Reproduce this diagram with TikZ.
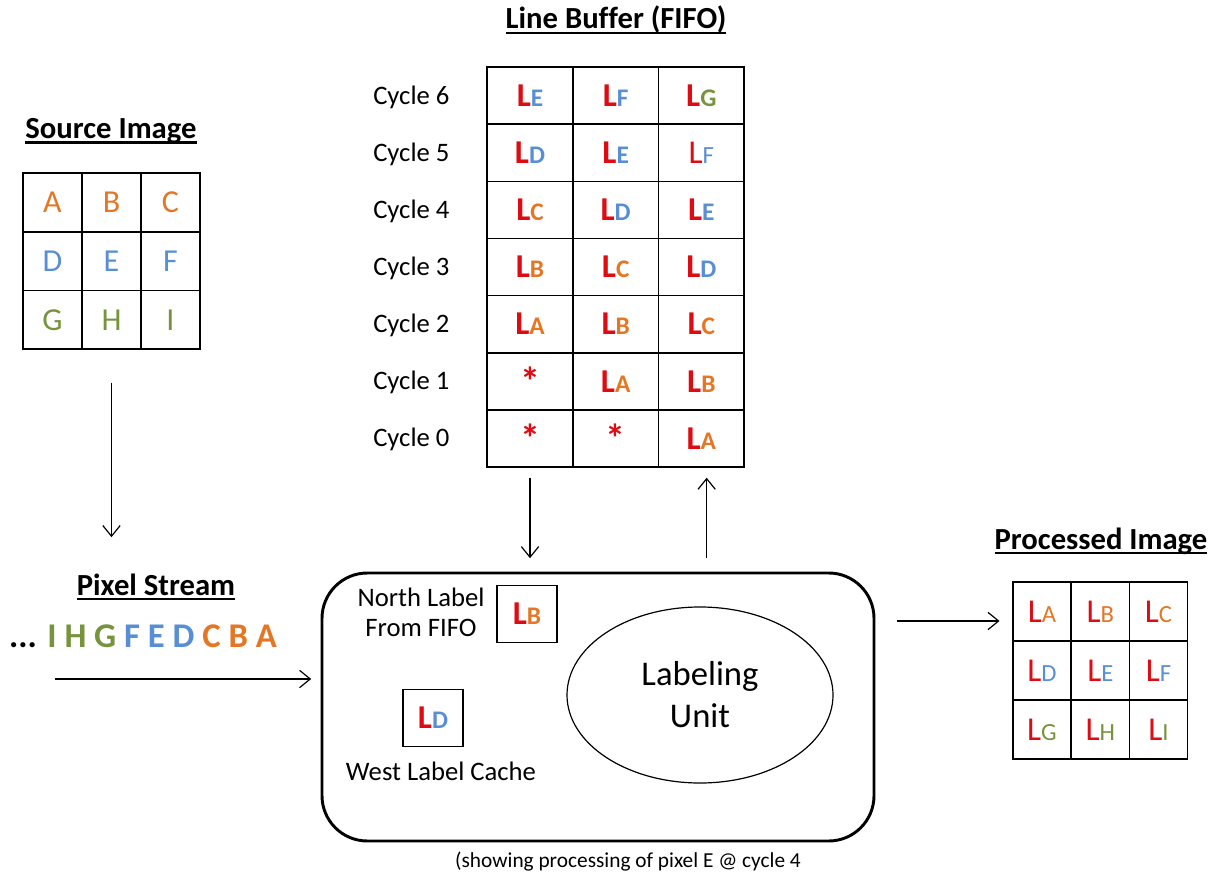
\documentclass[tikz,border=0pt]{standalone}
\usepackage{fontspec}
\setmainfont[Ligatures=NoCommon]{Carlito}
\usepackage{tikz}
\usetikzlibrary{positioning}
\usetikzlibrary {arrows.meta}
\usetikzlibrary{shapes.geometric}
\definecolor{lred}{RGB}{222,12,18}
\definecolor{lorange}{RGB}{228,118,36}
\definecolor{lblue}{RGB}{88,142,212}
\definecolor{lgreen}{RGB}{119,147,60}
\newcommand{\fifoL}[2]{{\fontsize{25}{25}\selectfont\bfseries\color{lred}L}{\fontsize{19}{19}\selectfont\bfseries\color{#1}#2}}
\newcommand{\thinL}[2]{{\fontsize{25}{25}\selectfont\color{lred}L}{\fontsize{18.5}{18.5}\selectfont\color{#1}#2}}
\newcommand{\emptyslot}{{\fontsize{30}{30}\selectfont\bfseries\color{lred}*}}
\newcommand{\ultitle}[1]{\setbox0\hbox{#1}\rlap{\rule[-4pt]{\wd0}{1.7pt}}\box0}
\tikzset{srccell/.style={rectangle,draw=black,line width=1.2pt,outer sep=0pt,
inner sep=0pt,minimum width=44.25pt,minimum height=44pt,font=\fontsize{24}{24}\selectfont}}
\tikzset{fifocell/.style={rectangle,draw=black,line width=1.2pt,outer sep=0pt,
inner sep=0pt,minimum width=64.25pt,minimum height=42.86pt}}
\tikzset{proccell/.style={rectangle,draw=black,line width=1.2pt,outer sep=0pt,
inner sep=0pt,minimum width=43.7pt,minimum height=44.25pt}}
\tikzset{labelbox/.style={rectangle,draw=black,line width=0.9pt,
inner sep=0pt,minimum width=45pt,minimum height=43pt}}
\tikzset{titletext/.style={font=\fontsize{23}{23}\selectfont\bfseries}}
\tikzset{cyclelabel/.style={anchor=west,inner sep=0pt,font=\fontsize{20}{20}\selectfont}}
\tikzset{flow/.style={line width=0.9pt,-{Straight Barb[length=8pt,width=13pt]}}}

\begin{document}
\begin{tikzpicture}[x=0.75pt,y=-0.75pt]
        \useasboundingbox (0,0) rectangle (1220,880);

        % source image
        \node[titletext] (srctitle) at (111,131) {\ultitle{Source Image}};
        \node[srccell,text=lorange] (srcA) at (52.5,202.5) {A};
        \node[srccell,text=lorange] (srcB) [right=0pt of srcA] {B};
        \node[srccell,text=lorange] (srcC) [right=0pt of srcB] {C};
        \node[srccell,text=lblue] (srcD) [below=0pt of srcA] {D};
        \node[srccell,text=lblue] (srcE) [right=0pt of srcD] {E};
        \node[srccell,text=lblue] (srcF) [right=0pt of srcE] {F};
        \node[srccell,text=lgreen] (srcG) [below=0pt of srcD] {G};
        \node[srccell,text=lgreen] (srcH) [right=0pt of srcG] {H};
        \node[srccell,text=lgreen] (srcI) [right=0pt of srcH] {I};

        % line buffer
        \node[titletext] (fifotitle) at (616,20) {\ultitle{Line Buffer (FIFO)}};
        \node[fifocell] (cycSixA) at (530,95.6) {\fifoL{lblue}{E}};
        \node[fifocell] (cycSixB) [right=0pt of cycSixA] {\fifoL{lblue}{F}};
        \node[fifocell] (cycSixC) [right=0pt of cycSixB] {\fifoL{lgreen}{G}};
        \node[fifocell] (cycFiveA) [below=0pt of cycSixA] {\fifoL{lblue}{D}};
        \node[fifocell] (cycFiveB) [right=0pt of cycFiveA] {\fifoL{lblue}{E}};
        \node[fifocell] (cycFiveC) [right=0pt of cycFiveB] {\thinL{lblue}{F}};
        \node[fifocell] (cycFourA) [below=0pt of cycFiveA] {\fifoL{lorange}{C}};
        \node[fifocell] (cycFourB) [right=0pt of cycFourA] {\fifoL{lblue}{D}};
        \node[fifocell] (cycFourC) [right=0pt of cycFourB] {\fifoL{lblue}{E}};
        \node[fifocell] (cycThreeA) [below=0pt of cycFourA] {\fifoL{lorange}{B}};
        \node[fifocell] (cycThreeB) [right=0pt of cycThreeA] {\fifoL{lorange}{C}};
        \node[fifocell] (cycThreeC) [right=0pt of cycThreeB] {\fifoL{lblue}{D}};
        \node[fifocell] (cycTwoA) [below=0pt of cycThreeA] {\fifoL{lorange}{A}};
        \node[fifocell] (cycTwoB) [right=0pt of cycTwoA] {\fifoL{lorange}{B}};
        \node[fifocell] (cycTwoC) [right=0pt of cycTwoB] {\fifoL{lorange}{C}};
        \node[fifocell] (cycOneA) [below=0pt of cycTwoA] {\emptyslot};
        \node[fifocell] (cycOneB) [right=0pt of cycOneA] {\fifoL{lorange}{A}};
        \node[fifocell] (cycOneC) [right=0pt of cycOneB] {\fifoL{lorange}{B}};
        \node[fifocell] (cycZeroA) [below=0pt of cycOneA] {\emptyslot};
        \node[fifocell] (cycZeroB) [right=0pt of cycZeroA] {\emptyslot};
        \node[fifocell] (cycZeroC) [right=0pt of cycZeroB] {\fifoL{lorange}{A}};

        \node[cyclelabel] (cycSix) at (373,97) {Cycle 6};
        \node[cyclelabel] (cycFive) at (373,154) {Cycle 5};
        \node[cyclelabel] (cycFour) at (373,211.5) {Cycle 4};
        \node[cyclelabel] (cycThree) at (373,268.5) {Cycle 3};
        \node[cyclelabel] (cycTwo) at (373,325.5) {Cycle 2};
        \node[cyclelabel] (cycOne) at (373,382.5) {Cycle 1};
        \node[cyclelabel] (cycZero) at (373,439.5) {Cycle 0};

        % pixel stream
        \node[titletext] (streamtitle) at (156,587) {\ultitle{Pixel Stream}};
        \node[font=\fontsize{26}{26}\selectfont\bfseries] (stream) at (143,636)
            {... \textcolor{lgreen}{I H G} \textcolor{lblue}{F E D} \textcolor{lorange}{C B A}};

        % labeling unit
        \node[rectangle,draw=black,line width=2.2pt,rounded corners=34pt,
            minimum width=414pt,minimum height=201pt] (unit) at (598,707) {};
        \node[align=center,font=\fontsize{20}{22.5}\selectfont] (northtext) at (421,612) {North Label\\From FIFO};
        \node[labelbox] (northbox) at (527,614) {\fifoL{lorange}{B}};
        \node[labelbox] (westbox) at (433,718) {\fifoL{lblue}{D}};
        \node[font=\fontsize{20}{20}\selectfont] (westtext) at (441,771) {West Label Cache};
        \node[ellipse,draw=black,line width=0.9pt,minimum width=199.5pt,minimum height=132pt,
            align=center,font=\fontsize{26}{31.5}\selectfont] (labunit) at (700,695) {Labeling\\Unit};
        \node[font=\fontsize{16}{16}\selectfont] (note) at (628,862) {(showing processing of pixel E @ cycle 4};

        % processed image
        \node[titletext] (proctitle) at (1101,541) {\ultitle{Processed Image}};
        \node[proccell] (procA) at (1042,611.5) {\thinL{lorange}{A}};
        \node[proccell] (procB) [right=0pt of procA] {\thinL{lorange}{B}};
        \node[proccell] (procC) [right=0pt of procB] {\thinL{lorange}{C}};
        \node[proccell] (procD) [below=0pt of procA] {\thinL{lblue}{D}};
        \node[proccell] (procE) [right=0pt of procD] {\thinL{lblue}{E}};
        \node[proccell] (procF) [right=0pt of procE] {\thinL{lblue}{F}};
        \node[proccell] (procG) [below=0pt of procD] {\thinL{lgreen}{G}};
        \node[proccell] (procH) [right=0pt of procG] {\thinL{lgreen}{H}};
        \node[proccell] (procI) [right=0pt of procH] {\thinL{lgreen}{I}};

        % connectors
        \coordinate (srcout) at ([yshift=-25pt]srcH.south);
        \coordinate (streamin) at ([yshift=-141pt]srcH.south);
        \draw[flow] (srcout) -- (streamin);

        \coordinate (streamstart) at (55,679);
        \coordinate (unitwest) at ([xshift=-7pt]unit.west |- streamstart);
        \draw[flow] (streamstart) -- (unitwest);

        \coordinate (fifoout) at ([yshift=-8pt]cycZeroA.south);
        \coordinate (unitnorth) at ([yshift=10pt]cycZeroA.south |- unit.north);
        \draw[flow] (fifoout) -- (unitnorth);

        \coordinate (fifoin) at ([xshift=4pt,yshift=-8pt]cycZeroC.south);
        \coordinate (unitback) at ([yshift=10pt]fifoin |- unit.north);
        \draw[flow] (unitback) -- (fifoin);

        \coordinate (unitout) at (897,621);
        \coordinate (procin) at ([xshift=-10pt]procA.west |- unitout);
        \draw[flow] (unitout) -- (procin);

\end{tikzpicture}
\end{document}
